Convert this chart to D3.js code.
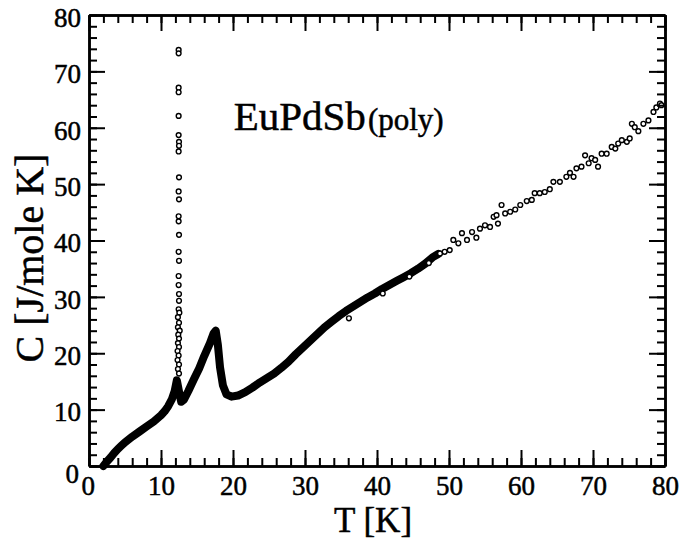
<!DOCTYPE html>
<html>
<head>
<meta charset="utf-8">
<script src="https://cdn.jsdelivr.net/npm/d3@7"></script>
<style>
  body { margin: 0; background: #fff; }
  svg text { font-family: "Liberation Serif", "Times New Roman", serif; fill: #000; stroke: #000; stroke-width: 0.5px; }
  .axis path, .axis line { stroke: #000; }
</style>
</head>
<body>
<div id="chart"></div>
<script>
// Heat capacity of EuPdSb (poly) - scanned figure redrawn with D3

// Section 1: data
// ======================================================

// dense part of the curve (the thick black band)
var denseT = [2.0, 2.5, 3.0, 3.5, 4.0, 4.5, 5.0, 6.0, 7.0, 8.0, 9.0, 10.0, 10.5, 11.0, 11.5, 11.9,
  12.2, 12.5, 12.8, 13.2, 13.8, 14.5, 15.3, 16.0, 16.8, 17.3, 17.6, 17.9, 18.2, 18.6, 19.1, 19.8,
  20.7, 21.7, 22.7, 23.7, 24.7, 25.7, 26.7, 27.7, 28.7, 29.7, 30.7, 31.7, 32.7, 33.7, 34.7, 35.7,
  36.7, 37.7, 38.7, 39.7, 40.7, 41.7, 42.7, 43.7, 44.7, 45.7, 46.7, 47.7, 48.5];
var denseC = [0.0, 0.8, 1.5, 2.3, 3.0, 3.6, 4.2, 5.2, 6.1, 7.0, 7.9, 9.0, 9.7, 10.6, 11.8, 13.3,
  15.2, 13.2, 11.4, 11.8, 13.3, 15.2, 17.3, 19.5, 21.8, 23.5, 24.0, 21.5, 17.5, 14.3, 12.7, 12.3,
  12.5, 13.1, 13.9, 14.8, 15.6, 16.4, 17.4, 18.5, 19.8, 21.0, 22.2, 23.4, 24.6, 25.6, 26.6, 27.5,
  28.3, 29.1, 29.9, 30.6, 31.4, 32.1, 32.8, 33.5, 34.2, 35.0, 35.9, 37.0, 37.6];

// the spike at the Eu ordering temperature
var spikeT = [12.45, 12.45, 12.45, 12.45, 12.45, 12.45, 12.5, 12.5, 12.45, 12.5, 12.45, 12.5, 12.45,
  12.45, 12.5, 12.45, 12.5, 12.45, 12.45, 12.5, 12.5, 12.45, 12.55, 12.35, 12.5, 12.35, 12.6, 12.4,
  12.5, 12.35, 12.5, 12.3, 12.45, 12.3, 12.5, 12.35, 12.5];
var spikeC = [73.8, 73.2, 67.1, 66.3, 62.1, 58.7, 57.5, 56.8, 55.8, 51.2, 48.7, 47.3, 44.3,
  43.4, 41.0, 38.0, 36.4, 33.7, 32.1, 30.5, 29.3, 27.8, 27.2, 26.4, 25.4, 24.6, 24.0, 23.3,
  22.6, 21.8, 21.1, 20.4, 19.6, 18.8, 18.0, 17.2, 16.4];

// scattered points at high temperature
var highT = [48.75, 49.4, 50.1, 50.6, 51.3, 51.8, 52.5, 53.2, 53.8, 54.3, 55.0, 55.7, 56.2, 56.6,
  56.8, 57.3, 57.8, 58.5, 59.2, 59.9, 60.8, 61.5, 61.9, 62.6, 63.3, 64.0, 64.5, 65.4, 66.3, 66.8,
  67.3, 67.7, 68.4, 68.9, 69.4, 69.8, 70.3, 70.7, 71.2, 71.9, 72.6, 73.1, 73.5, 74.0, 74.7, 75.1,
  75.4, 75.8, 76.3, 77.0, 77.7, 78.4, 78.8, 79.3, 79.5];
var highC = [37.7, 38.0, 38.3, 40.1, 39.5, 41.3, 40.1, 41.5, 40.5, 42.1, 42.7, 42.4, 44.2, 44.5,
  43.0, 46.3, 44.8, 45.1, 45.5, 46.3, 47.0, 47.2, 48.4, 48.4, 48.6, 49.1, 50.4, 50.4, 51.3, 52.0,
  51.3, 52.8, 53.1, 55.1, 53.7, 54.6, 54.3, 53.1, 55.4, 55.4, 56.6, 56.3, 57.2, 57.8, 57.5, 58.1,
  60.7, 60.1, 59.4, 60.7, 61.3, 62.8, 63.6, 64.3, 64.0];

// loose circles sticking out of the band
var looseT = [36.1, 40.8, 44.5, 47.2];
var looseC = [26.2, 30.6, 33.6, 36.0];

var xMajor = [0, 10, 20, 30, 40, 50, 60, 70, 80];
var yMajor = [0, 10, 20, 30, 40, 50, 60, 70, 80];
var xMinor = d3.range(0, 81, 2);
var yMinor = d3.range(0, 81, 2);

// Section 2: canvas + scales
// ======================================================

var width = 681;
var height = 541;
var plotLeft = 89;
var plotRight = 665;
var plotTop = 15;
var plotBottom = 466;
var circR = 2.4;

var svg = d3.select("#chart")
  .append("svg")
  .attr("width", width)
  .attr("height", height);

svg.append("rect").attr("width", width).attr("height", height).attr("fill", "#fff");

var xScale = d3.scaleLinear().domain([0, 80]).range([plotLeft, plotRight]);
var yScale = d3.scaleLinear().domain([0, 80]).range([plotBottom, plotTop]);

function zip(a, b) {
  return a.map(function(v, i) { return [v, b[i]]; });
}

// Section 3: data
// ======================================================

var dense = zip(denseT, denseC);

svg.append("path")
  .datum(dense)
  .attr("fill", "none")
  .attr("stroke", "#000")
  .attr("stroke-width", 8)
  .attr("stroke-linejoin", "round")
  .attr("stroke-linecap", "round")
  .attr("d", d3.line()
    .x(function(d) { return xScale(d[0]); })
    .y(function(d) { return yScale(d[1]); }));

var pts = zip(spikeT, spikeC).concat(zip(highT, highC)).concat(zip(looseT, looseC));

svg.append("g")
  .selectAll("circle")
  .data(pts)
  .enter()
  .append("circle")
  .attr("cx", function(d) { return xScale(d[0]); })
  .attr("cy", function(d) { return yScale(d[1]); })
  .attr("r", circR)
  .attr("fill", "#fff")
  .attr("stroke", "#000")
  .attr("stroke-width", 1.4);

// Section 4: axes, inward ticks on all four sides
// ======================================================

function styleAxis(g) {
  g.attr("font-family", null).attr("font-size", 27);
  g.select(".domain").attr("stroke-width", 2.5);
  g.selectAll(".tick line").attr("stroke-width", 2);
}

// minor ticks
svg.append("g").attr("class", "axis")
  .attr("transform", "translate(0," + plotBottom + ")")
  .call(d3.axisBottom(xScale).tickValues(xMinor).tickSize(-8).tickSizeOuter(0).tickFormat(""))
  .call(styleAxis);
svg.append("g").attr("class", "axis")
  .attr("transform", "translate(0," + plotTop + ")")
  .call(d3.axisTop(xScale).tickValues(xMinor).tickSize(-8).tickSizeOuter(0).tickFormat(""))
  .call(styleAxis);
svg.append("g").attr("class", "axis")
  .attr("transform", "translate(" + plotLeft + ",0)")
  .call(d3.axisLeft(yScale).tickValues(yMinor).tickSize(-8).tickSizeOuter(0).tickFormat(""))
  .call(styleAxis);
svg.append("g").attr("class", "axis")
  .attr("transform", "translate(" + plotRight + ",0)")
  .call(d3.axisRight(yScale).tickValues(yMinor).tickSize(-8).tickSizeOuter(0).tickFormat(""))
  .call(styleAxis);

// major ticks
var xAxis = svg.append("g").attr("class", "axis")
  .attr("transform", "translate(0," + plotBottom + ")")
  .call(d3.axisBottom(xScale).tickValues(xMajor).tickSize(-16).tickSizeOuter(0).tickPadding(10))
  .call(styleAxis);
svg.append("g").attr("class", "axis")
  .attr("transform", "translate(0," + plotTop + ")")
  .call(d3.axisTop(xScale).tickValues(xMajor).tickSize(-16).tickSizeOuter(0).tickFormat(""))
  .call(styleAxis);
var yAxis = svg.append("g").attr("class", "axis")
  .attr("transform", "translate(" + plotLeft + ",0)")
  .call(d3.axisLeft(yScale).tickValues(yMajor).tickSize(-16).tickSizeOuter(0).tickPadding(8))
  .call(styleAxis);
svg.append("g").attr("class", "axis")
  .attr("transform", "translate(" + plotRight + ",0)")
  .call(d3.axisRight(yScale).tickValues(yMajor).tickSize(-16).tickSizeOuter(0).tickFormat(""))
  .call(styleAxis);

yAxis.selectAll("text").attr("dy", "0.42em");
// the two zeros sit a little off in the original
yAxis.selectAll("text").filter(function(d) { return d === 0; }).attr("dy", "0.62em").attr("x", -10);
xAxis.selectAll("text").filter(function(d) { return d === 0; }).attr("dx", "-0.05em");

// Section 5: titles
// ======================================================

svg.append("text")
  .attr("x", (plotLeft + plotRight) / 2 - 4)
  .attr("y", 532)
  .attr("text-anchor", "middle")
  .attr("font-size", 35)
  .text("T [K]");

svg.append("text")
  .attr("transform", "translate(43," + 258 + ")rotate(-90)")
  .attr("text-anchor", "middle")
  .attr("font-size", 40)
  .text("C [J/mole K]");

var label = svg.append("text")
  .attr("x", xScale(20.1))
  .attr("y", yScale(59.6));
label.append("tspan").attr("font-size", 41).text("EuPdSb");
label.append("tspan").attr("font-size", 31).attr("dx", 2).text("(poly)");
</script>
</body>
</html>
